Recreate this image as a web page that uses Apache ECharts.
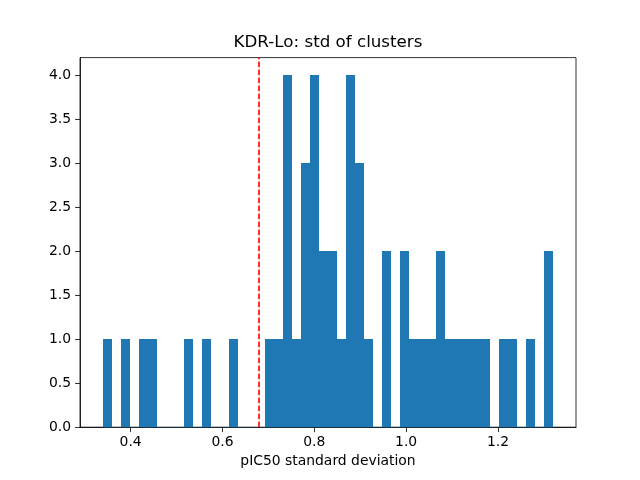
<!DOCTYPE html>
<html>
<head>
<meta charset="utf-8">
<script src="https://cdn.jsdelivr.net/npm/echarts@6/dist/echarts.min.js"></script>
<style>html,body{margin:0;padding:0;background:#fff}#c{width:640px;height:480px}</style>
</head>
<body>
<div id="c"></div>
<script>
// Histogram: 50 equal bins between binMin and binMax
var binMin = 0.3389;
var binMax = 1.3207;
var counts = [1,0,1,0,1,1,0,0,0,1,0,1,0,0,1,0,0,0,1,1,4,1,3,4,2,2,1,4,3,1,0,2,0,2,1,1,1,2,1,1,1,1,1,0,1,1,0,1,0,2];
var threshold = 0.68;
var xTicks = [0.4, 0.6, 0.8, 1.0, 1.2];
var yTicks = [0, 0.5, 1.0, 1.5, 2.0, 2.5, 3.0, 3.5, 4.0];
var xRange = [0.2898, 1.3698];
var yRange = [0, 4.2];

var nb = counts.length;
var bw = (binMax - binMin) / nb;
var data = counts.map(function (c, i) { return [binMin + i * bw, binMin + (i + 1) * bw, c]; });

var chart = echarts.init(document.getElementById('c'), null, {renderer: 'canvas'});
var font = 'DejaVu Sans';
chart.setOption({
  animation: false,
  backgroundColor: '#ffffff',
  grid: {left: 80, right: 64, top: 57.6, bottom: 52.8, show: true, borderColor: '#000', borderWidth: 0.8, backgroundColor: 'transparent'},
  graphic: [{
    type: 'text', x: 328, y: 43, z: 10,
    style: {text: 'KDR-Lo: std of clusters', fontFamily: font, fontSize: 16.7, fill: '#000', textAlign: 'center', textVerticalAlign: 'middle'}
  }],
  xAxis: {
    type: 'value', min: xRange[0], max: xRange[1],
    name: 'pIC50 standard deviation', nameLocation: 'middle', nameGap: 27,
    nameTextStyle: {fontFamily: font, fontSize: 13.9, color: '#000'},
    splitLine: {show: false},
    axisLine: {show: true, onZero: false, lineStyle: {color: '#000', width: 0.8}},
    axisTick: {show: true, length: 4.9, lineStyle: {color: '#000', width: 0.8}, customValues: xTicks},
    axisLabel: {fontFamily: font, fontSize: 13.9, color: '#000', margin: 8, customValues: xTicks,
      formatter: function (v) { return v.toFixed(1); }}
  },
  yAxis: {
    type: 'value', min: yRange[0], max: yRange[1],
    splitLine: {show: false},
    axisLine: {show: true, onZero: false, lineStyle: {color: '#000', width: 0.8}},
    axisTick: {show: true, length: 4.9, lineStyle: {color: '#000', width: 0.8}, customValues: yTicks},
    axisLabel: {fontFamily: font, fontSize: 13.9, color: '#000', margin: 9, customValues: yTicks,
      formatter: function (v) { return v.toFixed(1); }}
  },
  series: [{
    type: 'custom',
    data: data,
    encode: {x: [0, 1], y: 2},
    renderItem: function (params, api) {
      var p0 = api.coord([api.value(0), api.value(2)]);
      var p1 = api.coord([api.value(1), 0]);
      var x0 = Math.round(p0[0]), x1 = Math.round(p1[0]);
      var y0 = Math.round(p0[1]), y1 = p1[1];
      return {type: 'rect', shape: {x: x0, y: y0, width: x1 - x0, height: y1 - y0},
        style: {fill: '#1f77b4'}};
    },
    markLine: {
      silent: true, symbol: ['none', 'none'], label: {show: false},
      lineStyle: {color: '#ff0000', width: 1.6, type: [5.6, 2.4]},
      data: [{xAxis: threshold}]
    },
    z: 2
  }]
});
</script>
</body>
</html>
